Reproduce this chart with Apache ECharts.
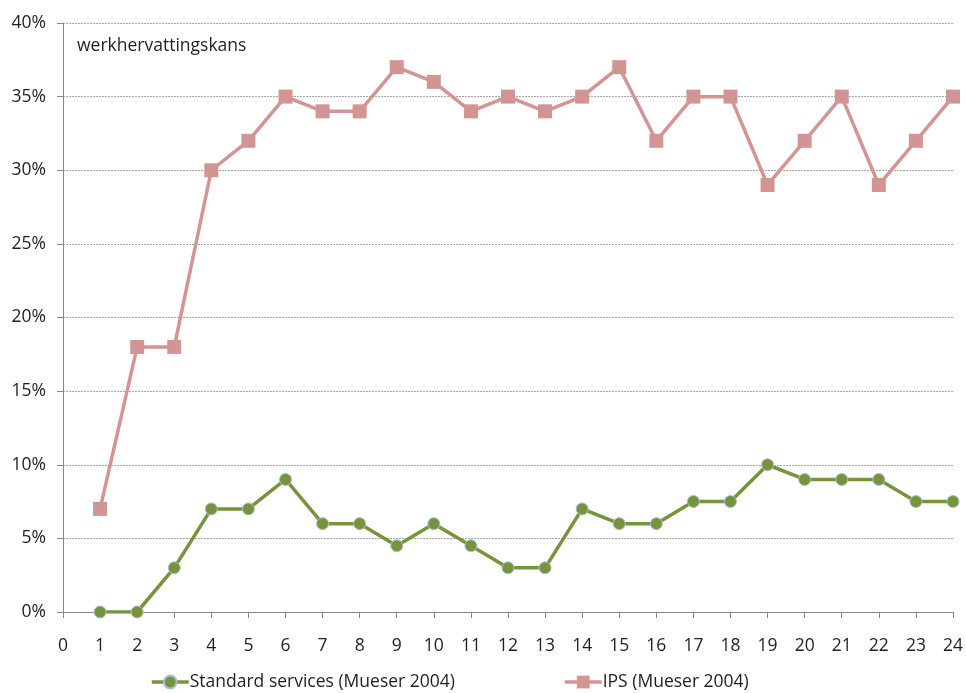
<!DOCTYPE html>
<html>
<head>
<meta charset="utf-8">
<script src="https://cdn.jsdelivr.net/npm/echarts@6/dist/echarts.min.js"></script>
<style>
  html, body { margin: 0; padding: 0; background: #fff; }
  #chart { width: 966px; height: 693px; }
</style>
</head>
<body>
<div id="chart"></div>
<script>
// maanden 0..24
var categories = [];
for (var i = 0; i <= 24; i++) categories.push(String(i));

// waarden in procenten, index 0 = maand 0 (geen waarde)
var standardValues = [null, 0, 0, 3, 7, 7, 9, 6, 6, 4.5, 6, 4.5, 3, 3, 7, 6, 6, 7.5, 7.5, 10, 9, 9, 9, 7.5, 7.5];
var ipsValues = [null, 7, 18, 18, 30, 32, 35, 34, 34, 37, 36, 34, 35, 34, 35, 37, 32, 35, 35, 29, 32, 35, 29, 32, 35];

var seriesNames = ['Standard services (Mueser 2004)', 'IPS (Mueser 2004)'];
var yTitle = 'werkhervattingskans';

var font = 'Open Sans';
var myChart = echarts.init(document.getElementById('chart'));

var option = {
  backgroundColor: '#fff',
  animation: false,
  grid: { left: 63, right: 11, top: 23, bottom: 81 },
  title: {
    text: yTitle,
    left: 72,
    top: 32,
    textStyle: { fontFamily: font, fontSize: 17.5, fontWeight: 'normal', color: '#1f1f1f' }
  },
  legend: {
    top: 668,
    left: 145,
    itemGap: 108,
    itemWidth: 37,
    itemHeight: 16,
    lineStyle: { width: 3.5 },
    textStyle: { fontFamily: font, fontSize: 17.5, color: '#1f1f1f', padding: [0, 0, 0, -4] },
    data: seriesNames
  },
  xAxis: {
    type: 'category',
    data: categories,
    boundaryGap: false,
    axisLine: { lineStyle: { color: '#868686', width: 1 } },
    axisTick: { show: true, length: 6, alignWithLabel: true, lineStyle: { color: '#868686' } },
    axisLabel: { interval: 0, margin: 25, fontFamily: font, fontSize: 17.5, color: '#1f1f1f' },
    splitLine: { show: false }
  },
  yAxis: {
    type: 'value',
    min: 0,
    max: 40,
    interval: 5,
    axisLine: { show: true, lineStyle: { color: '#868686', width: 1 } },
    axisTick: { show: true, length: 6, lineStyle: { color: '#868686' } },
    axisLabel: { margin: 17, fontFamily: font, fontSize: 17.5, color: '#1f1f1f', formatter: '{value}%' },
    splitLine: { lineStyle: { color: '#a6a6a6', type: [2, 1], width: 1 } }
  },
  series: [
    {
      name: seriesNames[0],
      type: 'line',
      data: standardValues,
      symbol: 'circle',
      symbolSize: 12,
      lineStyle: { color: '#77933C', width: 3.5 },
      itemStyle: { color: '#77933C', borderColor: '#a9bfd9', borderWidth: 1 },
      z: 3
    },
    {
      name: seriesNames[1],
      type: 'line',
      data: ipsValues,
      symbol: 'rect',
      symbolSize: 14,
      lineStyle: { color: '#D39494', width: 3.5 },
      itemStyle: { color: '#D39494', borderWidth: 0 },
      z: 2
    }
  ]
};
option && myChart.setOption(option);
</script>
</body>
</html>
